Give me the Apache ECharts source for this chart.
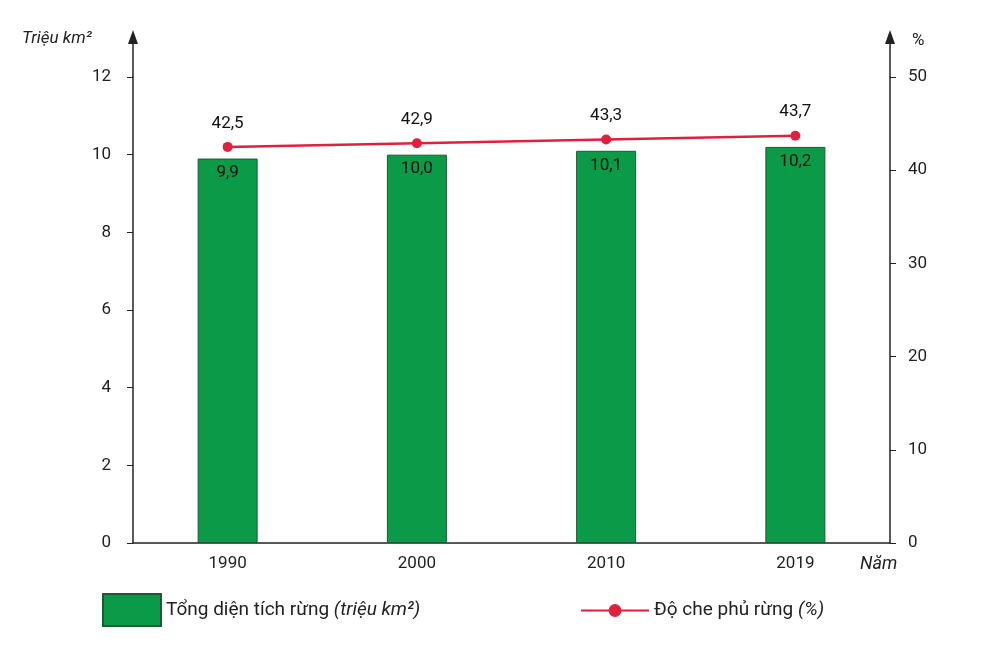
<!DOCTYPE html>
<html><head><meta charset="utf-8">
<script src="https://cdn.jsdelivr.net/npm/echarts@6/dist/echarts.min.js"></script>
<style>html,body{margin:0;padding:0;background:#fff}#c{width:994px;height:656px}</style>
</head><body><div id="c"></div>
<script>
const categories = ['1990','2000','2010','2019'];
const areaValues = [9.9, 10.0, 10.1, 10.2];
const coverValues = [42.5, 42.9, 43.3, 43.7];
const fmt = v => String(v.toFixed(1)).replace('.', ',');
const chart = echarts.init(document.getElementById('c'));
const axisLine = {show:true, lineStyle:{color:'#222', width:1.5}};
const txt = {fill:'#222', fontSize:18, fontFamily:'Roboto'};
function arrow(x){
  return [
    {type:'line', shape:{x1:x,y1:77,x2:x,y2:40}, style:{stroke:'#222', lineWidth:1.5}},
    {type:'polygon', shape:{points:[[x,30],[x-5,44],[x+5,44]]}, style:{fill:'#222'}}
  ];
}
chart.setOption({
  animation:false,
  textStyle:{fontFamily:'Roboto', color:'#222'},
  grid:{left:133, right:104, top:77, bottom:113},
  graphic:[
    ...arrow(133), ...arrow(890),
    {type:'text', left:22, top:30, style:{...txt, text:'Triệu km²', fontStyle:'italic', fontSize:17}},
    {type:'text', left:912, top:32, style:{...txt, text:'%', fontSize:17}},
    {type:'text', left:860, top:555, style:{...txt, text:'Năm', fontStyle:'italic'}}
  ],
  legend:[
    {data:['Tổng diện tích rừng'], left:97, top:588, itemWidth:58, itemHeight:32, itemGap:18, icon:'rect',
     formatter:()=>'{a|Tổng diện tích rừng }{b|(triệu km²)}',
     textStyle:{rich:{a:{fontSize:19,color:'#222'},b:{fontSize:19,fontStyle:'italic',color:'#222'}}}},
    {data:['Độ che phủ rừng'], left:575, top:596, itemWidth:68, itemHeight:16, itemGap:16,
     formatter:()=>'{a|Độ che phủ rừng }{b|(%)}',
     textStyle:{rich:{a:{fontSize:19,color:'#222'},b:{fontSize:19,fontStyle:'italic',color:'#222'}}}}
  ],
  xAxis:{type:'category', data:categories, axisLine:{show:true,lineStyle:{color:'#222',width:1.5}},
    axisTick:{show:false}, axisLabel:{fontSize:17, color:'#222', margin:12}},
  yAxis:[
    {type:'value', min:0, max:12, interval:2, position:'left', axisLine:axisLine,
     axisTick:{show:true, length:6, lineStyle:{color:'#222'}}, splitLine:{show:false},
     axisLabel:{fontSize:17, color:'#222', margin:22}},
    {type:'value', min:0, max:50, interval:10, position:'right', axisLine:axisLine,
     axisTick:{show:true, length:6, lineStyle:{color:'#222'}}, splitLine:{show:false},
     axisLabel:{fontSize:17, color:'#222', margin:18}}
  ],
  series:[
    {name:'Tổng diện tích rừng', type:'bar', data:areaValues, barWidth:60, yAxisIndex:0,
     itemStyle:{color:'#0b9a48', borderColor:'#1d5a33', borderWidth:1},
     label:{show:true, position:'insideTop', distance:6, fontSize:17, color:'#111', formatter:p=>fmt(p.value)}},
    {name:'Độ che phủ rừng', type:'line', data:coverValues, yAxisIndex:1, symbol:'circle', symbolSize:10,
     lineStyle:{color:'#e0203c', width:2.5}, itemStyle:{color:'#e0203c'},
     label:{show:true, position:'top', distance:10, fontSize:17, color:'#111', formatter:p=>fmt(p.value)}}
  ]
});
</script></body></html>
